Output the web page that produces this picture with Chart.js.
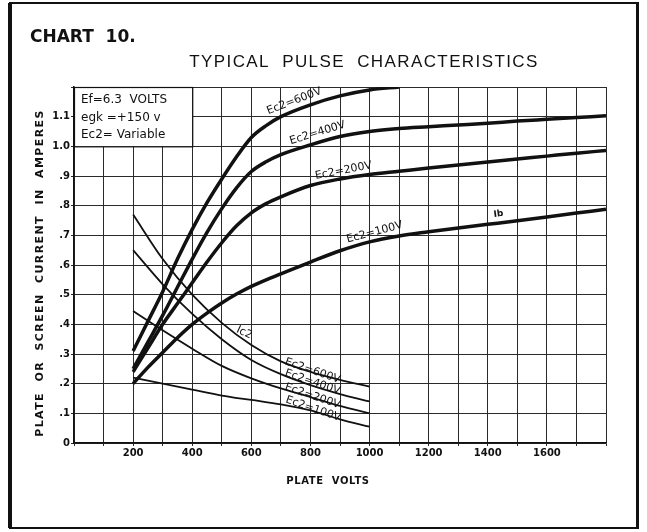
<!DOCTYPE html>
<html lang="en">
<head>
<meta charset="UTF-8">
<title>Typical Pulse Characteristics</title>
<script src="https://cdn.jsdelivr.net/npm/chart.js"></script>
<style>
  html, body { margin: 0; padding: 0; background: #fff; }
  .chart-container { width: 647px; height: 532px; position: relative; }
</style>
</head>
<body>
<div class="chart-container"><canvas id="pulseChart"></canvas></div>
<script>
// Plate current (Ib) curves, thick lines
const ibVolts600 = [200, 250, 300, 350, 400, 450, 500, 550, 600, 650, 700, 800, 900, 1000, 1100];
const ib600 = [0.31, 0.41, 0.51, 0.62, 0.72, 0.81, 0.89, 0.965, 1.03, 1.07, 1.10, 1.14, 1.17, 1.19, 1.20];

const ibVolts = [200, 250, 300, 350, 400, 450, 500, 550, 600, 650, 700, 800, 900, 1000, 1100, 1200, 1300, 1400, 1500, 1600, 1700, 1800];
const ib400 = [0.25, 0.34, 0.43, 0.525, 0.62, 0.71, 0.79, 0.86, 0.915, 0.948, 0.972, 1.005, 1.033, 1.05, 1.06, 1.066, 1.072, 1.078, 1.085, 1.091, 1.097, 1.103];
const ib200 = [0.24, 0.32, 0.40, 0.47, 0.54, 0.61, 0.675, 0.732, 0.776, 0.807, 0.83, 0.868, 0.89, 0.905, 0.916, 0.927, 0.937, 0.947, 0.957, 0.967, 0.977, 0.986];
const ib100 = [0.20, 0.255, 0.305, 0.355, 0.40, 0.438, 0.472, 0.502, 0.528, 0.55, 0.57, 0.61, 0.648, 0.678, 0.698, 0.712, 0.725, 0.737, 0.749, 0.762, 0.775, 0.788];

// Screen current (Ic2) curves, thin lines
const icVolts = [200, 300, 400, 500, 600, 700, 800, 900, 1000];
const ic600 = [0.77, 0.62, 0.50, 0.405, 0.33, 0.275, 0.24, 0.213, 0.19];
const ic400 = [0.65, 0.535, 0.435, 0.35, 0.28, 0.232, 0.195, 0.165, 0.14];
const ic200 = [0.445, 0.38, 0.318, 0.26, 0.218, 0.184, 0.155, 0.125, 0.10];
const ic100 = [0.22, 0.20, 0.18, 0.16, 0.145, 0.13, 0.11, 0.08, 0.055];

// Tick labels
const xTickLabels = [200, 400, 600, 800, 1000, 1200, 1400, 1600];
const yTickLabels = ['0', '.1', '.2', '.3', '.4', '.5', '.6', '.7', '.8', '.9', '1.0', '1.1', ''];

const INK = '#111';
const pts = (xs, ys) => ys.map((y, i) => ({ x: xs[i], y: y }));

function curve(label, xs, ys, width) {
    return {
        label: label,
        data: pts(xs, ys),
        borderColor: INK,
        borderWidth: width,
        pointRadius: 0,
        fill: false,
        cubicInterpolationMode: 'monotone'
    };
}

// text drawn at a point given in data units
function labelAt(ctx, chart, text, vx, vy, deg, font) {
    const x = chart.scales.x.getPixelForValue(vx);
    const y = chart.scales.y.getPixelForValue(vy);
    ctx.save();
    ctx.translate(x, y);
    ctx.rotate(deg * Math.PI / 180);
    ctx.font = font;
    ctx.textAlign = 'center';
    ctx.textBaseline = 'middle';
    ctx.fillText(text, 0, 0);
    ctx.restore();
}

const decorPlugin = {
    id: 'decor',
    afterDraw(chart) {
        const ctx = chart.ctx;
        const xs = chart.scales.x, ys = chart.scales.y;
        ctx.save();
        ctx.fillStyle = INK;
        ctx.strokeStyle = INK;

        // outer frame
        ctx.lineWidth = 2;
        ctx.strokeRect(10, 3, 628, 525);
        ctx.fillRect(8, 3, 4, 525);
        ctx.fillRect(636, 3, 3, 525);

        // headings
        ctx.textBaseline = 'middle';
        ctx.textAlign = 'left';
        ctx.font = '900 17px "DejaVu Sans", sans-serif';
        ctx.fillText('CHART  10.', 30, 38);

        ctx.textAlign = 'center';
        ctx.font = '17px "Liberation Sans", Arial, sans-serif';
        ctx.letterSpacing = '1.4px';
        ctx.fillText('TYPICAL  PULSE  CHARACTERISTICS', 364, 62);

        ctx.font = 'bold 10px "DejaVu Sans", sans-serif';
        ctx.letterSpacing = '0.6px';
        ctx.fillText('PLATE  VOLTS', 328, 481);

        ctx.font = 'bold 11px "DejaVu Sans", sans-serif';
        ctx.letterSpacing = '1.4px';
        ctx.save();
        ctx.translate(40, 273);
        ctx.rotate(-Math.PI / 2);
        ctx.fillText('PLATE  OR  SCREEN  CURRENT  IN  AMPERES', 0, 0);
        ctx.restore();
        ctx.letterSpacing = '0px';

        // conditions box in the upper left corner of the grid
        const bx0 = xs.getPixelForValue(0), bx1 = xs.getPixelForValue(400);
        const by0 = ys.getPixelForValue(1.2), by1 = ys.getPixelForValue(1.0);
        ctx.fillStyle = '#fff';
        ctx.fillRect(bx0 + 1, by0 + 1, bx1 - bx0 - 1, by1 - by0 - 1);
        ctx.lineWidth = 1.2;
        ctx.strokeRect(bx0 + 0.5, by0 + 0.5, bx1 - bx0, by1 - by0);
        ctx.fillStyle = INK;
        ctx.textAlign = 'left';
        ctx.font = '12px "DejaVu Sans", sans-serif';
        ctx.fillText('Ef=6.3  VOLTS', bx0 + 7, by0 + 13);
        ctx.fillText('egk =+150 v', bx0 + 7, by0 + 31);
        ctx.fillText('Ec2= Variable', bx0 + 7, by0 + 48);

        // curve labels
        const f = '11px "DejaVu Sans", sans-serif';
        labelAt(ctx, chart, 'Ec2=600V', 745, 1.152, -21, f);
        labelAt(ctx, chart, 'Ec2=400V', 824, 1.045, -17, f);
        labelAt(ctx, chart, 'Ec2=200V', 912, 0.918, -11, f);
        labelAt(ctx, chart, 'Ec2=100V', 1017, 0.71, -15, f);
        labelAt(ctx, chart, 'Ib', 1436, 0.772, -8, 'bold 9px "DejaVu Sans", sans-serif');
        labelAt(ctx, chart, 'Ic2', 576, 0.372, 25, f);
        labelAt(ctx, chart, 'Ec2=600V', 807, 0.243, 19, f);
        labelAt(ctx, chart, 'Ec2=400V', 807, 0.205, 19, f);
        labelAt(ctx, chart, 'Ec2=200V', 807, 0.158, 19, f);
        labelAt(ctx, chart, 'Ec2=100V', 809, 0.115, 19, f);
        ctx.restore();
    }
};

const tickFont = { family: '"DejaVu Sans", sans-serif', size: 10, weight: 'bold' };

const ctx = document.getElementById('pulseChart').getContext('2d');
const pulseChart = new Chart(ctx, {
    type: 'line',
    data: {
        datasets: [
            curve('Ib Ec2=600V', ibVolts600, ib600, 3.5),
            curve('Ib Ec2=400V', ibVolts, ib400, 3.5),
            curve('Ib Ec2=200V', ibVolts, ib200, 3.5),
            curve('Ib Ec2=100V', ibVolts, ib100, 3.5),
            curve('Ic2 Ec2=600V', icVolts, ic600, 1.8),
            curve('Ic2 Ec2=400V', icVolts, ic400, 1.8),
            curve('Ic2 Ec2=200V', icVolts, ic200, 1.8),
            curve('Ic2 Ec2=100V', icVolts, ic100, 1.8)
        ]
    },
    options: {
        responsive: true,
        maintainAspectRatio: false,
        animation: false,
        layout: { padding: { top: 87, right: 41, left: 0, bottom: 0 } },
        plugins: {
            legend: { display: false },
            tooltip: { enabled: false }
        },
        scales: {
            x: {
                type: 'linear',
                min: 0,
                max: 1800,
                afterFit: s => { s.height = 89; },
                ticks: {
                    stepSize: 100,
                    autoSkip: false,
                    maxRotation: 0,
                    padding: 1,
                    color: INK,
                    font: tickFont,
                    callback: v => xTickLabels.includes(v) ? String(v) : ''
                },
                grid: { color: '#2a2a2a', lineWidth: 1, tickLength: 3 },
                border: { color: INK, width: 1.5 }
            },
            y: {
                min: 0,
                max: 1.2,
                afterFit: s => { s.width = 74; },
                ticks: {
                    stepSize: 0.1,
                    autoSkip: false,
                    padding: 1,
                    color: INK,
                    font: tickFont,
                    callback: (v, i) => yTickLabels[i]
                },
                grid: { color: '#2a2a2a', lineWidth: 1, tickLength: 3 },
                border: { color: INK, width: 1.5 }
            }
        }
    },
    plugins: [decorPlugin]
});
</script>
</body>
</html>
